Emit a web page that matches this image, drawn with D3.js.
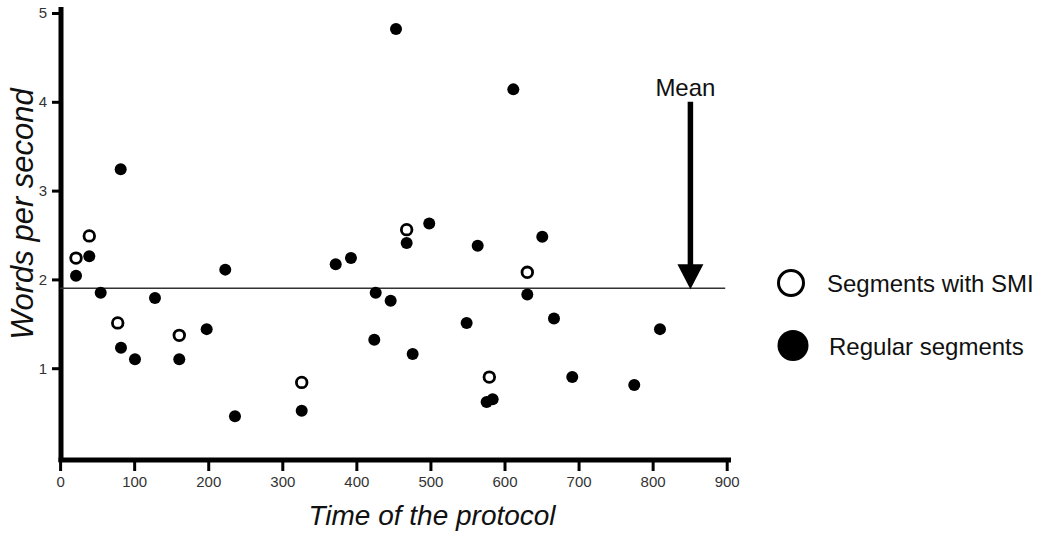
<!DOCTYPE html>
<html>
<head>
<meta charset="utf-8">
<script src="https://cdn.jsdelivr.net/npm/d3@7"></script>
<style>
  html, body { margin: 0; padding: 0; background: #fff; }
  svg { display: block; font-family: "Liberation Sans", Arial, Helvetica, sans-serif; }
</style>
</head>
<body>
<svg id="chart" width="1045" height="534"></svg>
<script>
// ---- data ----
const xTicks = [0, 100, 200, 300, 400, 500, 600, 700, 800, 900];
const yTicks = [1, 2, 3, 4, 5];

const smiTime  = [21.5, 39.4, 77.8, 160.9, 326.2, 467.9, 579.5, 630.8];
const smiWords = [2.24, 2.49, 1.51, 1.37, 0.84, 2.56, 0.90, 2.08];

const regTime  = [21.5, 39.4, 54.8, 81.8, 82.2, 101.1, 128.1, 160.9, 197.9, 223.0, 236.1,
                  326.2, 372.1, 392.7, 426.1, 446.3, 424.2, 453.5, 467.9, 476.0, 498.4,
                  548.9, 563.8, 575.9, 584.0, 611.9, 630.8, 651.0, 666.8, 691.5, 775.2, 809.9];
const regWords = [2.04, 2.26, 1.85, 3.24, 1.23, 1.10, 1.79, 1.10, 1.44, 2.11, 0.46,
                  0.52, 2.17, 2.24, 1.85, 1.76, 1.32, 4.82, 2.41, 1.16, 2.63,
                  1.51, 2.38, 0.62, 0.65, 4.14, 1.83, 2.48, 1.56, 0.90, 0.81, 1.44];

const meanValue = 1.90;
const arrowTime = 851;
const arrowTop = 4.0;
const meanEnd = 898;

const legendLabels = ["Segments with SMI", "Regular segments"];
const xTitle = "Time of the protocol";
const yTitle = "Words per second";

// ---- layout ----
const svg = d3.select("#chart");
const x = d3.scaleLinear().domain([0, 900]).range([60.1, 726.7]);
const y = d3.scaleLinear().domain([0, 5]).range([457, 13]);

// axes
const yAxis = d3.axisLeft(y).tickValues(yTicks).tickSize(9).tickPadding(5).tickFormat(d3.format("d"));
const gy = svg.append("g").attr("transform", "translate(61,0)").call(yAxis);
gy.select(".domain").remove();
gy.selectAll(".tick line").attr("stroke", "#000").attr("stroke-width", 3);
gy.selectAll(".tick text").attr("font-size", 15).attr("fill", "#333");

const xAxis = d3.axisBottom(x).tickValues(xTicks).tickSize(11).tickPadding(5).tickFormat(d3.format("d"));
const gx = svg.append("g").attr("transform", "translate(0,460)").call(xAxis);
gx.select(".domain").remove();
gx.selectAll(".tick line").attr("stroke", "#000").attr("stroke-width", 3);
gx.selectAll(".tick text").attr("font-size", 15).attr("fill", "#333");

// thick axis lines
svg.append("line").attr("x1", 61).attr("x2", 61).attr("y1", 7).attr("y2", 462)
  .attr("stroke", "#000").attr("stroke-width", 5);
svg.append("line").attr("x1", 58.5).attr("x2", 731).attr("y1", 460).attr("y2", 460)
  .attr("stroke", "#000").attr("stroke-width", 5);

// mean line
svg.append("line").attr("x1", x(0)).attr("x2", x(meanEnd))
  .attr("y1", y(meanValue)).attr("y2", y(meanValue))
  .attr("stroke", "#333").attr("stroke-width", 1.6);

// arrow
const ax = x(arrowTime);
const tipY = y(meanValue);
svg.append("line").attr("x1", ax).attr("x2", ax).attr("y1", y(arrowTop)).attr("y2", tipY - 20)
  .attr("stroke", "#000").attr("stroke-width", 5.5);
svg.append("path")
  .attr("d", `M${ax - 13},${tipY - 24} L${ax + 13},${tipY - 24} L${ax},${tipY + 1} Z`)
  .attr("fill", "#000");
svg.append("text").attr("x", ax - 5).attr("y", y(arrowTop) - 6)
  .attr("text-anchor", "middle").attr("font-size", 24).attr("fill", "#111").text("Mean");

// regular points
svg.append("g").selectAll("circle").data(regTime.map((t, i) => [t, regWords[i]]))
  .join("circle")
  .attr("cx", d => x(d[0])).attr("cy", d => y(d[1])).attr("r", 6)
  .attr("fill", "#000");

// SMI points
svg.append("g").selectAll("circle").data(smiTime.map((t, i) => [t, smiWords[i]]))
  .join("circle")
  .attr("cx", d => x(d[0])).attr("cy", d => y(d[1])).attr("r", 5.3)
  .attr("fill", "#fff").attr("stroke", "#000").attr("stroke-width", 2.8);

// legend
svg.append("circle").attr("cx", 791).attr("cy", 283).attr("r", 12.5)
  .attr("fill", "#fff").attr("stroke", "#000").attr("stroke-width", 3);
svg.append("circle").attr("cx", 793).attr("cy", 345.5).attr("r", 15.5).attr("fill", "#000");
svg.append("text").attr("x", 827).attr("y", 292).attr("font-size", 24).attr("fill", "#111")
  .text(legendLabels[0]);
svg.append("text").attr("x", 829).attr("y", 355).attr("font-size", 24).attr("fill", "#111")
  .text(legendLabels[1]);

// axis titles
svg.append("text").attr("x", 432).attr("y", 525).attr("text-anchor", "middle")
  .attr("font-size", 28).attr("font-style", "italic").attr("fill", "#111").text(xTitle);
svg.append("text").attr("transform", "translate(33,214) rotate(-90)")
  .attr("text-anchor", "middle").attr("font-size", 31).attr("font-style", "italic")
  .attr("fill", "#111").text(yTitle);
</script>
</body>
</html>
